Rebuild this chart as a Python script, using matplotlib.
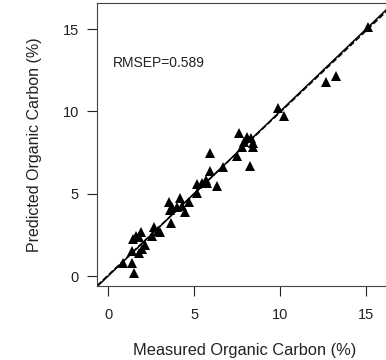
import matplotlib
matplotlib.use("Agg")
import matplotlib.pyplot as plt
import numpy as np

plt.rcParams['font.family'] = ['Liberation Sans', 'DejaVu Sans']

# measured vs predicted organic carbon (%)
measured = [15.10, 12.67, 13.26, 9.87, 10.25, 7.63, 8.06, 8.30, 7.91, 8.45,
            7.77, 8.43, 5.93, 7.48, 8.26, 6.67, 5.93, 5.70, 5.45, 5.19,
            5.74, 6.32, 5.16, 4.69, 4.19, 3.55, 3.70, 3.60, 3.99, 4.28,
            4.49, 3.66, 2.69, 2.92, 2.54, 3.02, 1.90, 1.63, 1.47, 1.82,
            2.15, 1.38, 1.82, 1.96, 0.85, 1.41, 1.53]
predicted = [15.14, 11.80, 12.14, 10.18, 9.73, 8.66, 8.46, 8.36, 8.15, 8.06,
             7.85, 7.83, 7.45, 7.29, 6.68, 6.64, 6.39, 5.83, 5.66, 5.59,
             5.63, 5.46, 5.06, 4.51, 4.72, 4.51, 4.21, 4.01, 4.17, 4.25,
             3.90, 3.20, 2.96, 2.73, 2.43, 2.69, 2.69, 2.43, 2.23, 2.35,
             1.88, 1.54, 1.41, 1.62, 0.81, 0.81, 0.16]
# fitted line (slope, intercept) as it appears in the picture - almost 1:1
fit_coef = [0.99, 0.05]
ticks = [0, 5, 10, 15]
rmsep_label = "RMSEP=0.589"

fig = plt.figure(figsize=(3.86, 3.6), dpi=100)
ax = fig.add_axes([97 / 386, 74 / 360, 295 / 386, 283 / 360])

line_x = np.array([-2, 20])
ax.plot(line_x, line_x, color='black', lw=1.1)
ax.plot(line_x, np.polyval(fit_coef, line_x), color='black', lw=1.1, ls='--')
ax.plot(measured, predicted, '^', color='black', markersize=6.7, markeredgewidth=0)

ax.set_xlim(-0.64, 16.5)
ax.set_ylim(-0.6, 16.58)
ax.set_xticks(ticks)
ax.set_yticks(ticks)
ax.tick_params(direction='out', length=7, width=0.8, labelsize=10.5,
               colors='#222222')
ax.tick_params(axis='x', pad=9)
ax.tick_params(axis='y', pad=6)
for s in ax.spines.values():
    s.set_linewidth(0.8)
    s.set_color('#444444')

ax.text(0.3, 12.93, rmsep_label, fontsize=10, va='center', ha='left',
        color='#222222')
ax.set_xlabel('Measured Organic Carbon (%)', fontsize=11.8, labelpad=15,
              color='#222222')
ax.set_ylabel('Predicted Organic Carbon (%)', fontsize=11.5, labelpad=15,
              color='#222222')

fig.savefig('out.png', dpi=100)
